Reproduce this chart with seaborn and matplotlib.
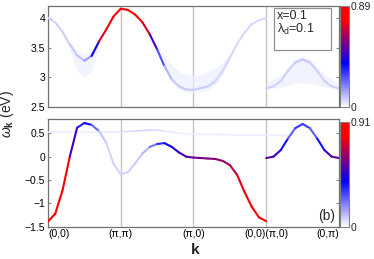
import numpy as np
import seaborn as sns
import matplotlib.pyplot as plt
from matplotlib.collections import LineCollection
from matplotlib.colors import LinearSegmentedColormap, Normalize
from matplotlib.cm import ScalarMappable

# k path: (0,0)->(pi,pi)->(pi,0)->(0,0) | (pi,0)->(0,pi)
k_main = [round(0.1 * i, 1) for i in range(31)]
k_xy = [round(3.0 + 0.1 * i, 1) for i in range(11)]
k_ticks = [0, 1, 2, 3, 4]
k_labels = ["(0,0)", "(π,π)", "(π,0)", "(0,0)(π,0)", "(0,π)"]

# top panel (upper band)
top_E = [4.00, 3.92, 3.76, 3.55, 3.37, 3.28, 3.36, 3.60, 3.80, 4.02, 4.15,
         4.13, 4.05, 3.92, 3.72, 3.47, 3.19, 2.97, 2.85, 2.80, 2.79,
         2.82, 2.85, 2.94, 3.11, 3.33, 3.56, 3.75, 3.89, 3.96, 3.99]
top_W = [0.07, 0.07, 0.07, 0.08, 0.09, 0.10, 0.20, 0.62, 0.80, 0.85, 0.88,
         0.87, 0.85, 0.80, 0.60, 0.38, 0.15, 0.09, 0.08, 0.08, 0.08,
         0.08, 0.08, 0.07, 0.06, 0.06, 0.06, 0.06, 0.06, 0.06, 0.06]
top_xy_E = [2.82, 2.85, 2.94, 3.11, 3.25, 3.30, 3.25, 3.11, 2.94, 2.85, 2.82]
top_xy_W = [0.07, 0.07, 0.07, 0.07, 0.08, 0.09, 0.08, 0.07, 0.07, 0.07, 0.07]

# broadened (smeared) weight in the top panel
glow1_k = [0.3, 0.4, 0.5, 0.6, 0.7]
glow1_lo = [3.45, 3.12, 3.00, 3.10, 3.50]
glow1_hi = [3.60, 3.45, 3.38, 3.45, 3.65]
glow2_k = [1.5, 1.6, 1.7, 1.8, 1.9, 2.0, 2.1, 2.2, 2.3, 2.4, 2.5]
glow2_lo = [3.45, 3.15, 2.93, 2.80, 2.76, 2.75, 2.76, 2.80, 2.88, 3.05, 3.30]
glow2_hi = [3.55, 3.35, 3.20, 3.10, 3.05, 3.03, 3.05, 3.10, 3.15, 3.25, 3.40]
glow3_k = [3.0, 3.2, 3.4, 3.5, 3.6, 3.8, 4.0]
glow3_lo = [2.80, 2.84, 2.90, 2.92, 2.90, 2.84, 2.80]
glow3_hi = [2.90, 3.05, 3.30, 3.36, 3.30, 3.05, 2.90]

# bottom panel (lower band)
bot_E = [-1.39, -1.22, -0.72, 0.00, 0.62, 0.72, 0.68, 0.55, 0.30, -0.15, -0.38,
         -0.33, -0.14, 0.07, 0.21, 0.27, 0.29, 0.21, 0.09, 0.00, -0.02,
         -0.03, -0.04, -0.05, -0.09, -0.18, -0.39, -0.75, -1.07, -1.30, -1.38]
bot_W = [0.91, 0.90, 0.88, 0.68, 0.28, 0.40, 0.36, 0.12, 0.07, 0.07, 0.07,
         0.07, 0.08, 0.09, 0.14, 0.28, 0.38, 0.42, 0.48, 0.52, 0.55,
         0.57, 0.58, 0.60, 0.62, 0.65, 0.70, 0.78, 0.85, 0.89, 0.91]
bot_xy_E = [-0.03, 0.00, 0.14, 0.39, 0.61, 0.70, 0.61, 0.39, 0.14, 0.00, -0.03]
bot_xy_W = [0.55, 0.52, 0.45, 0.28, 0.22, 0.40, 0.22, 0.28, 0.45, 0.52, 0.55]

# faint flat feature near 0.5 eV
flat_k = [0, 0.5, 1.0, 1.2, 1.4, 1.5, 1.6, 1.8, 2.0, 2.5, 3.0, 3.3]
flat_E = [0.52, 0.52, 0.53, 0.55, 0.57, 0.57, 0.55, 0.50, 0.48, 0.47, 0.47, 0.47]
flat_W = [0.03, 0.03, 0.04, 0.07, 0.07, 0.06, 0.04, 0.03, 0.03, 0.03, 0.03, 0.02]

vmax_top = 0.89
vmax_bot = 0.91

sns.set_style("white")
plt.rcParams['font.family'] = ['Liberation Sans', 'DejaVu Sans']
plt.rcParams['mathtext.fontset'] = 'custom'
plt.rcParams['mathtext.rm'] = 'Liberation Sans'
plt.rcParams['mathtext.it'] = 'Liberation Sans:italic'
plt.rcParams['mathtext.bf'] = 'Liberation Sans:bold'

cmap = LinearSegmentedColormap.from_list(
    "wbr", [(0, "white"), (0.43, "blue"), (0.86, "red"), (1, "red")])


def draw_band(ax, k, E, W, norm, lw=1.5):
    pts = np.column_stack([k, E])
    segs = np.stack([pts[:-1], pts[1:]], axis=1)
    w = np.asarray(W)
    lc = LineCollection(segs, cmap=cmap, norm=norm, linewidths=lw,
                        capstyle='round', joinstyle='round', zorder=3)
    lc.set_array(0.5 * (w[:-1] + w[1:]))
    ax.add_collection(lc)


def style_axes(ax, yticks, ylabels, ylim):
    ax.set_xlim(0, 4)
    ax.set_ylim(*ylim)
    ax.set_yticks(yticks)
    ax.set_yticklabels(ylabels)
    ax.set_xticks(k_ticks)
    for xv in [1, 2, 3]:
        ax.axvline(xv, color="#c4c4c4", lw=1.0, zorder=1)
    for sp in ax.spines.values():
        sp.set_color("#707070")
        sp.set_linewidth(0.9)
    ax.tick_params(axis='both', direction='in', length=2.5, width=0.6,
                   colors="#707070", labelcolor="black", labelsize=7.5,
                   left=True, right=True, bottom=True, pad=2)


fig = plt.figure(figsize=(3.74, 2.59), dpi=100)
ax1 = fig.add_axes([0.1283, 0.5857, 0.778, 0.392])
ax2 = fig.add_axes([0.1283, 0.1247, 0.778, 0.4147])
cax1 = fig.add_axes([0.909, 0.5857, 0.025, 0.392])
cax2 = fig.add_axes([0.909, 0.1247, 0.025, 0.405])

norm1 = Normalize(0, vmax_top)
norm2 = Normalize(0, vmax_bot)

glow = "#eceeff"
for gk, lo, hi in [(glow1_k, glow1_lo, glow1_hi), (glow2_k, glow2_lo, glow2_hi),
                   (glow3_k, glow3_lo, glow3_hi)]:
    ax1.fill_between(gk, lo, hi, color=glow, alpha=0.7, lw=0, zorder=2)

draw_band(ax1, k_main, top_E, top_W, norm1)
draw_band(ax1, k_xy, top_xy_E, top_xy_W, norm1)
style_axes(ax1, [2.5, 3, 3.5, 4], ["2.5", "3", "3.5", "4"], (2.5, 4.2))
ax1.set_xticklabels([])

draw_band(ax2, flat_k, flat_E, flat_W, norm2, lw=1.1)
draw_band(ax2, k_main, bot_E, bot_W, norm2)
draw_band(ax2, k_xy, bot_xy_E, bot_xy_W, norm2)
style_axes(ax2, [-1.5, -1, -0.5, 0, 0.5],
           ["\u22121.5", "\u22121", "\u22120.5", "0", "0.5"], (-1.5, 0.8))
ax2.set_xticklabels(k_labels)
tl = ax2.get_xticklabels()
tl[0].set_ha('left')
tl[-1].set_ha('right')

# parameter box in top panel
ax1.add_patch(plt.Rectangle((0.777, 0.565), 0.196, 0.412, transform=ax1.transAxes,
                            facecolor="white", edgecolor="#909090", lw=0.9, zorder=4))
ax1.text(0.788, 0.955, "x=0.1\nλ$_\\mathrm{d}$=0.1", transform=ax1.transAxes,
         ha='left', va='top', fontsize=9, linespacing=1.0, zorder=5)
ax2.text(0.958, 0.10, "(b)", transform=ax2.transAxes, ha='center', va='center',
         fontsize=10)

for cax, norm, vm in [(cax1, norm1, vmax_top), (cax2, norm2, vmax_bot)]:
    cb = fig.colorbar(ScalarMappable(norm=norm, cmap=cmap), cax=cax)
    cb.set_ticks([0, vm])
    cb.set_ticklabels(["0", f"{vm:g}"])
    cb.ax.tick_params(length=0, pad=1, labelsize=7.5)
    cb.outline.set_edgecolor("#808080")
    cb.outline.set_linewidth(0.8)

fig.text(0.02, 0.56, r"$\omega_\mathbf{k}$ (eV)", rotation=90, ha='center',
         va='center', fontsize=10)
fig.text(0.521, 0.035, "k", fontweight='bold', ha='center', va='center', fontsize=11)

fig.savefig("out.png", dpi=100)
